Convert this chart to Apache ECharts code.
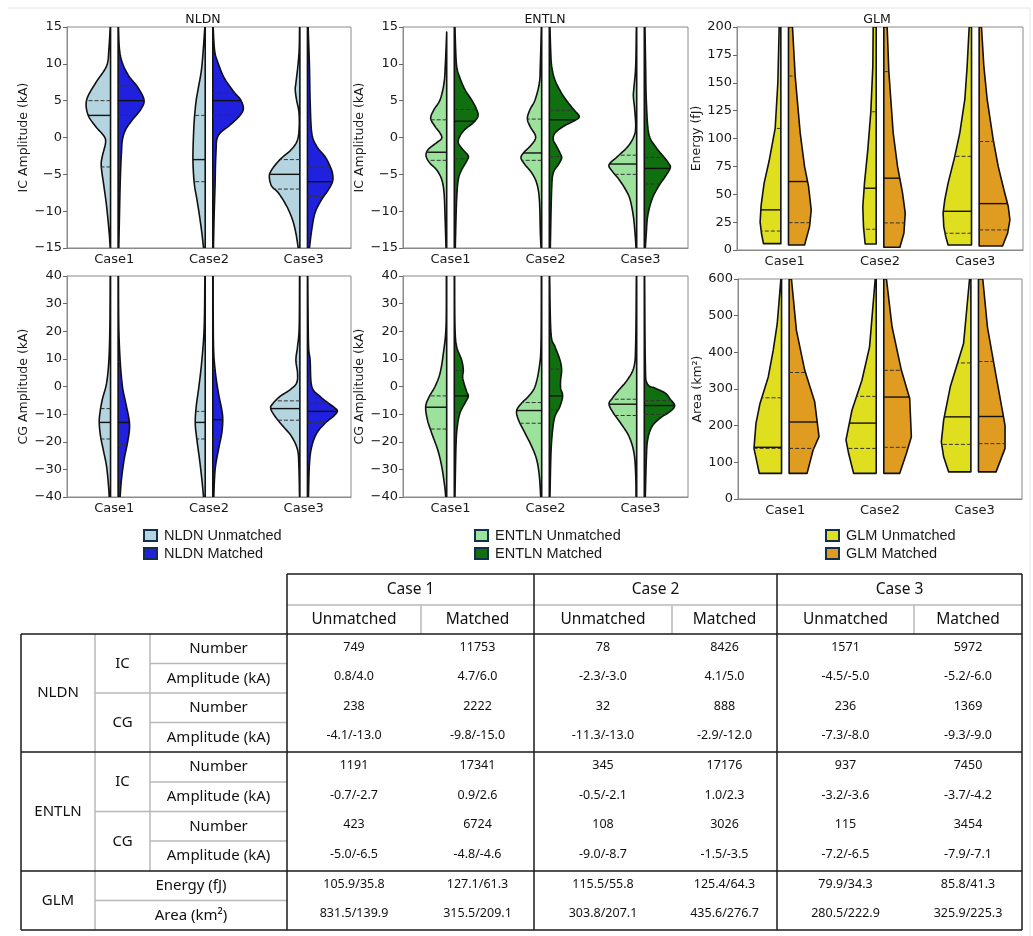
<!DOCTYPE html>
<html>
<head>
<meta charset="utf-8">
<title>Split violins NLDN / ENTLN / GLM</title>
<script src="https://cdn.jsdelivr.net/npm/echarts@6.0.0/dist/echarts.min.js"></script>
<style>
  html, body { margin: 0; padding: 0; background: #fff; }
  #chart { width: 1033px; height: 936px; }
</style>
</head>
<body>
<div id="chart"></div>
<script>
// categories
var cases = ['Case1', 'Case2', 'Case3'];

// violin outlines: [value, relative density] from top to bottom, one list per case
var nldnIcUnmatched = [
  [[15,1],[12,5],[9.7,12],[7.4,45],[5.1,72],[3.1,68],[1.5,45],[0.2,20],[-0.7,15],[-2.6,25],[-3.9,28],[-6.6,20],[-9.3,12],[-13,4],[-15,1]],
  [[15,1],[9.7,10],[6.9,20],[5.1,27],[2.9,32],[0.6,35],[-3,37],[-6.2,33],[-8.4,25],[-10.7,17],[-13,10],[-15,5]],
  [[15,1],[12,2],[9.7,6],[7.4,12],[6.5,14],[5.1,10],[3.5,3],[1.5,2],[-0.3,7],[-1.6,25],[-3,60],[-4.4,85],[-5.3,92],[-6.6,85],[-7.5,65],[-9.3,40],[-11.2,22],[-13,12],[-15,5]]
];
var nldnIcMatched = [
  [[15,1],[12,4],[10.1,13],[8.3,33],[6.9,58],[5.1,78],[3.8,68],[2.4,43],[1.1,23],[-0.3,13],[-2.1,10],[-3.9,8],[-6.6,6],[-10.7,4],[-15,2]],
  [[15,1],[12,5],[10.6,12],[8.3,32],[6.9,52],[6,67],[5.1,84],[3.9,92],[2.9,80],[1.7,52],[0.6,22],[-0.3,12],[-1.6,10],[-3.9,8],[-6.2,7],[-10.7,4],[-15,2]],
  [[15,2],[9.7,6],[5.1,8],[0.6,13],[-1.2,28],[-2.6,53],[-3.9,68],[-4.8,75],[-5.9,76],[-7.1,63],[-8.4,43],[-10.2,23],[-12.5,13],[-15,6]]
];
var entlnIcUnmatched = [
  [[14.3,0],[10,4],[7.4,8],[5.1,20],[3.8,38],[2.6,48],[1.5,35],[0.6,20],[-0.1,15],[-0.7,30],[-1.6,55],[-2.5,62],[-3.5,50],[-4.4,30],[-5.7,15],[-7.5,8],[-10.7,5],[-15,2]],
  [[15,1],[10,4],[7.4,7],[5.1,20],[3.8,35],[2.6,43],[1.5,35],[0.4,20],[-0.3,20],[-1.2,35],[-2.1,55],[-2.8,62],[-3.7,50],[-4.8,30],[-6.2,15],[-8.4,7],[-13,4],[-15,2]],
  [[15,1],[9.7,3],[6.9,8],[5.6,10],[3.8,6],[1.5,3],[0.2,8],[-1.2,26],[-2.6,58],[-3.7,83],[-4.6,73],[-5.7,53],[-7.1,33],[-8.4,20],[-10.7,10],[-13,5],[-15,2]]
];
var entlnIcMatched = [
  [[15,2],[12,4],[9.7,7],[8.3,15],[6.5,32],[5.1,52],[3.8,67],[2.9,71],[2,57],[1.1,32],[0.2,17],[-0.7,12],[-1.6,25],[-2.5,42],[-3.2,37],[-4.4,22],[-5.7,12],[-8.4,7],[-13,4],[-15,3]],
  [[15,2],[12,4],[9.7,7],[7.8,17],[6,37],[4.7,57],[3.6,77],[2.8,90],[2.2,72],[1.5,42],[0.6,17],[-0.3,12],[-1.2,22],[-2.1,32],[-2.8,37],[-3.7,27],[-4.8,12],[-7.1,7],[-15,3]],
  [[15,2],[9.7,4],[5.1,6],[0.6,13],[-1.2,33],[-2.6,58],[-3.5,73],[-4.1,78],[-5.3,63],[-6.6,43],[-8.4,23],[-10.7,10],[-13,6],[-15,3]]
];
var glmEnergyUnmatched = [
  [[200,5],[150,9],[109,17],[80,35],[60,50],[40,59],[25,62],[15,58],[5.7,52]],
  [[200,9],[165,10],[124,16],[90,25],[60,35],[39,40],[21,38],[5.4,33]],
  [[200,7],[165,13],[135,20],[105,35],[84,50],[60,70],[45,80],[33,85],[21,83],[12,77],[4.5,70]]
];
var glmEnergyMatched = [
  [[200,12],[156,20],[105,35],[75,48],[57,60],[36,68],[21,63],[12,55],[4.5,48]],
  [[200,10],[160,15],[105,28],[75,41],[51,56],[33,64],[15,60],[2.4,48]],
  [[200,7],[165,14],[135,24],[99,42],[75,57],[54,74],[39,87],[27,92],[15,85],[3.6,70]]
];
var nldnCgUnmatched = [
  [[40,1],[21.7,2],[9.6,5],[1.2,12],[-4.8,25],[-9.6,32],[-13.3,34],[-18.1,30],[-22.9,22],[-28.9,12],[-36.1,6],[-40,4]],
  [[40,1],[21.7,3],[9.6,10],[0,19],[-7.2,27],[-13.3,30],[-19.3,25],[-26.5,17],[-33.7,10],[-40,5]],
  [[40,1],[21.7,2],[14.5,7],[9.6,12],[4.8,7],[1.2,10],[-1.2,30],[-3.6,60],[-6,80],[-7.8,88],[-10.8,75],[-14.5,50],[-18.1,25],[-22.9,7],[-28.9,3],[-40,1]]
];
var nldnCgMatched = [
  [[40,1],[21.7,2],[9.6,6],[0,13],[-6,23],[-12,33],[-15.7,34],[-20.5,28],[-26.5,18],[-33.7,10],[-40,6]],
  [[40,1],[15.7,2],[6,7],[-2.4,17],[-8.4,27],[-12,30],[-16.9,27],[-22.9,17],[-30.1,7],[-40,3]],
  [[40,1],[15.7,3],[9.6,8],[0,13],[-3.6,38],[-6,63],[-7.8,83],[-9,90],[-10.8,78],[-13.3,53],[-16.9,28],[-21.7,13],[-28,6],[-40,3]]
];
var entlnCgUnmatched = [
  [[40,1],[21.7,2],[12,10],[4.8,20],[0,35],[-3.6,52],[-7.2,63],[-12,58],[-16.9,45],[-22.9,27],[-28.9,15],[-36.1,6],[-40,3]],
  [[40,1],[15.7,2],[7.2,7],[0,20],[-3.6,40],[-6,60],[-8.7,75],[-12,70],[-16.9,50],[-21.7,30],[-26.5,15],[-32.5,7],[-40,3]],
  [[40,1],[15.7,3],[7.2,8],[2.4,28],[-1.2,53],[-4.2,73],[-6.4,83],[-9.6,70],[-13.3,48],[-18.1,23],[-24.1,8],[-32,3],[-40,2]]
];
var entlnCgMatched = [
  [[40,1],[21.7,2],[14.5,7],[9.6,22],[6,27],[3.6,25],[1.2,29],[-1.8,37],[-3.6,42],[-6,32],[-9.6,17],[-14.5,9],[-21.7,5],[-40,2]],
  [[40,1],[19.3,5],[14.5,17],[9.6,32],[6,37],[2.4,34],[-0.6,34],[-3.4,40],[-7.2,32],[-10.8,17],[-15.7,10],[-24.1,5],[-40,2]],
  [[40,1],[9,3],[1.2,8],[-0.6,33],[-2.4,63],[-4.6,78],[-6.9,91],[-9,78],[-11.4,48],[-14.5,23],[-19.3,10],[-26.5,6],[-40,3]]
];
var glmAreaUnmatched = [
  [[600,2],[478,13],[406,25],[333,40],[260,65],[206,77],[138,83],[70,67]],
  [[600,3],[415,20],[324,43],[242,73],[161,91],[124,83],[70,68]],
  [[600,4],[424,22],[306,62],[215,82],[156,89],[115,82],[74,67]]
];
var glmAreaMatched = [
  [[600,7],[460,22],[351,47],[265,77],[170,90],[133,72],[70,54]],
  [[600,8],[469,25],[351,53],[274,78],[170,83],[124,68],[70,48]],
  [[600,13],[469,27],[351,50],[251,70],[201,80],[138,80],[74,53]]
];

// quartiles [Q1, median, Q3] per case
var nldnIcUnmatchedQ = [[-4,3,5],[-6,-3,3],[-7,-5,-3]];
var nldnIcMatchedQ = [[3,5,7],[3,5,6],[-8,-6,-4]];
var entlnIcUnmatchedQ = [[-3.1,-2,2.4],[-3.1,-2.1,2.5],[-5,-3.6,-2.4]];
var entlnIcMatchedQ = [[-2.9,2.2,3.8],[-2.6,2.4,3.7],[-6.3,-4.2,-2.7]];
var glmEnergyUnmatchedQ = [[17,36,109],[18.6,55.4,124],[15,34.7,84]];
var glmEnergyMatchedQ = [[24.5,61.4,156],[24.3,64.4,160],[18,41.6,97.3]];
var nldnCgUnmatchedQ = [[-19,-13,-8],[-19,-13,-9],[-12.2,-8,-5.2]];
var nldnCgMatchedQ = [[-21,-13,9],[-19,-12,6.4],[-13,-9,-6]];
var entlnCgUnmatchedQ = [[-15.4,-7.5,-3.4],[-13.3,-8.7,-5.8],[-10.5,-6.4,-4.6]];
var entlnCgMatchedQ = [[-9.3,-3.4,5.8],[-8.4,-3.4,6.3],[-10.1,-6.9,-5.1]];
var glmAreaUnmatchedQ = [[138,141,276],[138,207,280],[149,224,371]];
var glmAreaMatchedQ = [[138,210,345],[141,278,351],[151,225,375]];

// table
var tableCaseHeads = ['Case 1', 'Case 2', 'Case 3'];
var tableColHeads = ['Unmatched', 'Matched'];
var tableNetworks = ['NLDN', 'ENTLN', 'GLM'];
var tableTypes = ['IC', 'CG'];
var tableMeasures = ['Number', 'Amplitude (kA)'];
var tableGlmMeasures = ['Energy (fJ)', 'Area (km\u00B2)'];
var nldnTableRows = [
  ['749', '11753', '78', '8426', '1571', '5972'],
  ['0.8/4.0', '4.7/6.0', '-2.3/-3.0', '4.1/5.0', '-4.5/-5.0', '-5.2/-6.0'],
  ['238', '2222', '32', '888', '236', '1369'],
  ['-4.1/-13.0', '-9.8/-15.0', '-11.3/-13.0', '-2.9/-12.0', '-7.3/-8.0', '-9.3/-9.0']
];
var entlnTableRows = [
  ['1191', '17341', '345', '17176', '937', '7450'],
  ['-0.7/-2.7', '0.9/2.6', '-0.5/-2.1', '1.0/2.3', '-3.2/-3.6', '-3.7/-4.2'],
  ['423', '6724', '108', '3026', '115', '3454'],
  ['-5.0/-6.5', '-4.8/-4.6', '-9.0/-8.7', '-1.5/-3.5', '-7.2/-6.5', '-7.9/-7.1']
];
var glmTableRows = [
  ['105.9/35.8', '127.1/61.3', '115.5/55.8', '125.4/64.3', '79.9/34.3', '85.8/41.3'],
  ['831.5/139.9', '315.5/209.1', '303.8/207.1', '435.6/276.7', '280.5/222.9', '325.9/225.3']
];

var colors = {
  'NLDN Unmatched': '#b4d4df', 'NLDN Matched': '#2020df',
  'ENTLN Unmatched': '#9ce29c', 'ENTLN Matched': '#107010',
  'GLM Unmatched': '#dfdf20', 'GLM Matched': '#df9c20'
};
var EDGE = '#111';
var GAP = 0.04;          // offset of each half from the category centre (fraction of band)
var WIDTH_UNIT = 1 / 285; // relative density -> fraction of band

var panels = [
  { net: 'NLDN', title: 'NLDN', titleX: 203, yName: 'IC Amplitude (kA)', min: -15, max: 15, step: 5, grid: [67, 27, 284, 221], smooth: true,
    un: nldnIcUnmatched, unQ: nldnIcUnmatchedQ, ma: nldnIcMatched, maQ: nldnIcMatchedQ },
  { net: 'ENTLN', title: 'ENTLN', titleX: 545, yName: 'IC Amplitude (kA)', min: -15, max: 15, step: 5, grid: [403, 27, 285, 221], smooth: true,
    un: entlnIcUnmatched, unQ: entlnIcUnmatchedQ, ma: entlnIcMatched, maQ: entlnIcMatchedQ },
  { net: 'GLM', title: 'GLM', titleX: 877, yName: 'Energy (fJ)', min: 0, max: 200, step: 25, grid: [737, 27, 286, 223], smooth: false,
    un: glmEnergyUnmatched, unQ: glmEnergyUnmatchedQ, ma: glmEnergyMatched, maQ: glmEnergyMatchedQ },
  { net: 'NLDN', yName: 'CG Amplitude (kA)', min: -40, max: 40, step: 10, grid: [67, 276, 284, 221], smooth: true,
    un: nldnCgUnmatched, unQ: nldnCgUnmatchedQ, ma: nldnCgMatched, maQ: nldnCgMatchedQ },
  { net: 'ENTLN', yName: 'CG Amplitude (kA)', min: -40, max: 40, step: 10, grid: [403, 276, 285, 221], smooth: true,
    un: entlnCgUnmatched, unQ: entlnCgUnmatchedQ, ma: entlnCgMatched, maQ: entlnCgMatchedQ },
  { net: 'GLM', yName: 'Area (km\u00B2)', min: 0, max: 600, step: 100, grid: [738, 279, 284, 220], smooth: false,
    un: glmAreaUnmatched, unQ: glmAreaUnmatchedQ, ma: glmAreaMatched, maQ: glmAreaMatchedQ }
];

// linear lookup of the density at a value (profile is ordered top to bottom)
function densityAt(prof, v) {
  for (var k = 0; k < prof.length - 1; k++) {
    var a = prof[k], b = prof[k + 1];
    if (v <= a[0] && v >= b[0]) {
      var t = (a[0] - v) / (a[0] - b[0]);
      return a[1] + (b[1] - a[1]) * t;
    }
  }
  return 0;
}

// smooth the outline through the read points (drawing only)
function catmullRom(pts, n, x0, side) {
  var out = [];
  for (var i = 0; i < pts.length - 1; i++) {
    var p0 = pts[Math.max(i - 1, 0)], p1 = pts[i], p2 = pts[i + 1], p3 = pts[Math.min(i + 2, pts.length - 1)];
    for (var s = 0; s < n; s++) {
      var t = s / n, t2 = t * t, t3 = t2 * t;
      var x = 0.5 * (2 * p1[0] + (-p0[0] + p2[0]) * t + (2 * p0[0] - 5 * p1[0] + 4 * p2[0] - p3[0]) * t2 + (-p0[0] + 3 * p1[0] - 3 * p2[0] + p3[0]) * t3);
      var y = 0.5 * (2 * p1[1] + (-p0[1] + p2[1]) * t + (2 * p0[1] - 5 * p1[1] + 4 * p2[1] - p3[1]) * t2 + (-p0[1] + 3 * p1[1] - 3 * p2[1] + p3[1]) * t3);
      if (side * (x - x0) < 0) x = x0;
      out.push([x, y]);
    }
  }
  out.push(pts[pts.length - 1]);
  return out;
}

function makeViolin(profiles, quartiles, side, smooth) {
  return function (params, api) {
    var i = params.dataIndex;
    var prof = profiles[i];
    var band = api.size([1, 0])[0];
    var cx = api.coord([i, 0])[0];
    var x0 = cx + side * band * GAP;
    var unit = band * WIDTH_UNIT;
    var outer = prof.map(function (p) {
      return [x0 + side * p[1] * unit, api.coord([i, p[0]])[1]];
    });
    if (smooth) outer = catmullRom(outer, 8, x0, side);
    var top = api.coord([i, prof[0][0]])[1];
    var bottom = api.coord([i, prof[prof.length - 1][0]])[1];
    var children = [{
      type: 'polygon',
      shape: { points: [[x0, top]].concat(outer, [[x0, bottom]]) },
      style: { fill: api.visual('color'), stroke: EDGE, lineWidth: 1.6, lineJoin: 'round' }
    }];
    quartiles[i].forEach(function (q, k) {
      var y = api.coord([i, q])[1];
      var w = densityAt(prof, q) * unit;
      children.push({
        type: 'line',
        shape: { x1: x0, y1: y, x2: x0 + side * w, y2: y },
        style: { stroke: k === 1 ? '#111' : '#333', lineWidth: k === 1 ? 1.4 : 1, lineDash: k === 1 ? null : [4, 2] }
      });
    });
    return { type: 'group', children: children };
  };
}

var minus = function (v) { return String(v).replace('-', '\u2212'); };
var tickFont = { fontFamily: '"DejaVu Sans", sans-serif', fontSize: 13, color: '#1a1a1a' };

var grids = [], xAxes = [], yAxes = [], series = [], graphics = [];
panels.forEach(function (p, idx) {
  grids.push({ left: p.grid[0], top: p.grid[1], width: p.grid[2], height: p.grid[3], show: true, borderColor: '#8a8a8a', borderWidth: 1 });
  xAxes.push({
    type: 'category', gridIndex: idx, data: cases,
    axisLine: { onZero: false, lineStyle: { color: '#8a8a8a' } },
    axisTick: { alignWithLabel: true, length: 4, lineStyle: { color: '#666' } },
    axisLabel: Object.assign({ margin: 5 }, tickFont),
    splitLine: { show: false }
  });
  yAxes.push({
    type: 'value', gridIndex: idx, min: p.min, max: p.max, interval: p.step,
    name: p.yName, nameLocation: 'middle', nameGap: 25,
    nameTextStyle: { fontFamily: '"DejaVu Sans", sans-serif', fontSize: 12.5, color: '#1a1a1a' },
    axisLine: { show: true, onZero: false, lineStyle: { color: '#8a8a8a' } },
    axisTick: { show: true, length: 4, lineStyle: { color: '#666' } },
    axisLabel: Object.assign({ margin: 5, formatter: minus }, tickFont),
    splitLine: { show: false }
  });
  [['Unmatched', p.un, p.unQ, -1], ['Matched', p.ma, p.maQ, 1]].forEach(function (h) {
    var name = p.net + ' ' + h[0];
    series.push({
      type: 'custom', name: name, xAxisIndex: idx, yAxisIndex: idx, clip: true, silent: true,
      itemStyle: { color: colors[name] },
      encode: { x: 0, y: 1 },
      data: cases.map(function (c, i) { return [i, h[2][i][1]]; }),
      renderItem: makeViolin(h[1], h[2], h[3], p.smooth)
    });
  });
  if (p.title) {
    graphics.push({ type: 'text', style: { text: p.title, x: p.titleX, y: 20, align: 'center', verticalAlign: 'middle', textAlign: 'center', textVerticalAlign: 'middle', font: '12.5px "DejaVu Sans", sans-serif', fill: '#111' } });
  }
});

// ---- table ----
var colX = [287, 421, 534, 672, 777, 914, 1022];
var rowY = [634, 663.5, 693, 722.5, 752, 782, 811.5, 841, 871, 900.5, 930];
var tLeft = 21, typeX = 95, measX = 150;
var BLACK = '#1a1a1a', GRAY = '#b8b8b8';

function tline(x1, y1, x2, y2, color) {
  graphics.push({ type: 'line', shape: { x1: x1, y1: y1, x2: x2, y2: y2 }, style: { stroke: color, lineWidth: 1.5 } });
}
function ttext(str, x, y, size) {
  graphics.push({ type: 'text', style: { text: str, x: x, y: y, align: 'center', verticalAlign: 'middle', textAlign: 'center', textVerticalAlign: 'middle', font: size + 'px "Noto Sans", sans-serif', fill: '#111' } });
}

// gray separators
tline(colX[0], 605, colX[6], 605, GRAY);
[1, 3, 5].forEach(function (c) { tline(colX[c], 605, colX[c], 634, GRAY); });
tline(typeX, 634, typeX, 930, GRAY);
tline(measX, 634, measX, 871, GRAY);
[0, 4].forEach(function (b) {
  tline(measX, rowY[b + 1], colX[0], rowY[b + 1], GRAY);
  tline(typeX, rowY[b + 2], colX[0], rowY[b + 2], GRAY);
  tline(measX, rowY[b + 3], colX[0], rowY[b + 3], GRAY);
});
tline(typeX, rowY[9], colX[0], rowY[9], GRAY);
// black frame
tline(colX[0], 574, colX[6], 574, BLACK);
[634, 752, 871, 930].forEach(function (y) { tline(tLeft, y, colX[6], y, BLACK); });
tline(tLeft, 634, tLeft, 930, BLACK);
[0, 2, 4, 6].forEach(function (c) { tline(colX[c], 574, colX[c], 930, BLACK); });

tableCaseHeads.forEach(function (t, k) { ttext(t, (colX[2 * k] + colX[2 * k + 2]) / 2, 589.5, 15.5); });
for (var c = 0; c < 6; c++) ttext(tableColHeads[c % 2], (colX[c] + colX[c + 1]) / 2, 619.5, 15.5);
ttext(tableNetworks[0], (tLeft + typeX) / 2, (rowY[0] + rowY[4]) / 2, 15);
ttext(tableNetworks[1], (tLeft + typeX) / 2, (rowY[4] + rowY[8]) / 2, 15);
ttext(tableNetworks[2], (tLeft + typeX) / 2, (rowY[8] + rowY[10]) / 2, 15);
[0, 4].forEach(function (b) {
  tableTypes.forEach(function (t, k) { ttext(t, (typeX + measX) / 2, (rowY[b + 2 * k] + rowY[b + 2 * k + 2]) / 2, 15); });
  for (var r = 0; r < 4; r++) ttext(tableMeasures[r % 2], (measX + colX[0]) / 2, (rowY[b + r] + rowY[b + r + 1]) / 2, 15);
});
tableGlmMeasures.forEach(function (t, k) { ttext(t, (typeX + colX[0]) / 2, (rowY[8 + k] + rowY[9 + k]) / 2, 15); });
nldnTableRows.concat(entlnTableRows, glmTableRows).forEach(function (row, r) {
  row.forEach(function (v, c) { ttext(v, (colX[c] + colX[c + 1]) / 2, (rowY[r] + rowY[r + 1]) / 2 - 1.5, 12.5); });
});

// faint page border of the original figure
graphics.push({ type: 'line', shape: { x1: 8, y1: 8, x2: 1030, y2: 8 }, style: { stroke: '#e4e4e4', lineWidth: 1 } });
graphics.push({ type: 'line', shape: { x1: 1030, y1: 8, x2: 1030, y2: 936 }, style: { stroke: '#e4e4e4', lineWidth: 1 } });

function legendFor(net, left) {
  return {
    data: [net + ' Unmatched', net + ' Matched'],
    left: left, top: 523, orient: 'vertical', icon: 'rect',
    itemWidth: 13, itemHeight: 11, itemGap: 3, selectedMode: false,
    itemStyle: { borderColor: '#12304e', borderWidth: 2 },
    textStyle: { fontFamily: '"Liberation Sans", Arial, sans-serif', fontSize: 14.5, color: '#1a1a1a', lineHeight: 13, padding: [0, 0, 0, 2] }
  };
}

var myChart = echarts.init(document.getElementById('chart'));
var option = {
  backgroundColor: '#fff',
  animation: false,
  grid: grids,
  xAxis: xAxes,
  yAxis: yAxes,
  legend: [legendFor('NLDN', 138), legendFor('ENTLN', 469), legendFor('GLM', 820)],
  graphic: { elements: graphics },
  series: series
};
option && myChart.setOption(option);
</script>
</body>
</html>
